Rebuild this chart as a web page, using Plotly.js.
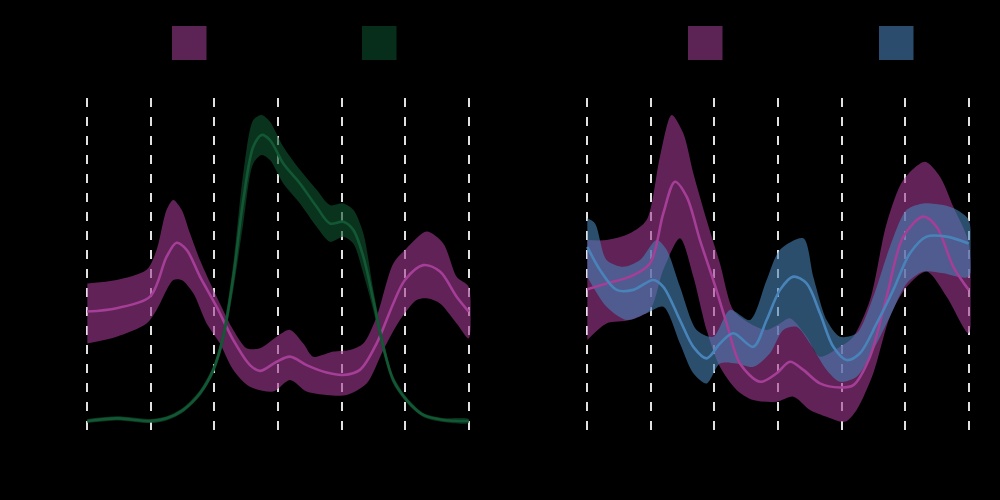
<!DOCTYPE html>
<html>
<head>
<meta charset="utf-8">
<script src="https://cdn.plot.ly/plotly-3.0.1.min.js"></script>
<style>html,body{margin:0;padding:0;background:#000;}#chart{width:1000px;height:500px;}</style>
</head>
<body>
<div id="chart"></div>
<script>
// ---------- Left panel ----------
const leftPurpleMeanX = [0,0.461,0.986,1.248,1.405,1.563,1.772,2.035,2.297,2.559,2.716,2.979,3.188,3.450,3.765,4.027,4.289,4.552,4.814,4.997,5.286,5.548,5.810,6.0];
const leftPurpleMeanY = [0.370,0.380,0.414,0.532,0.573,0.552,0.473,0.384,0.286,0.212,0.195,0.222,0.237,0.212,0.190,0.183,0.198,0.276,0.394,0.463,0.507,0.488,0.414,0.370];
const leftPurpleUpX = [0,0.461,0.933,1.091,1.248,1.353,1.484,1.615,1.772,2.035,2.297,2.507,2.716,2.979,3.188,3.398,3.555,3.870,4.132,4.342,4.552,4.814,5.024,5.338,5.600,5.810,6.0];
const leftPurpleUpY = [0.453,0.463,0.493,0.552,0.670,0.699,0.670,0.601,0.522,0.414,0.316,0.262,0.262,0.296,0.316,0.276,0.237,0.252,0.257,0.276,0.355,0.512,0.557,0.606,0.571,0.473,0.443];
const leftPurpleLoX = [0,0.461,0.933,1.091,1.353,1.484,1.668,1.877,2.087,2.297,2.559,2.926,3.188,3.450,3.765,4.080,4.394,4.657,4.919,5.181,5.338,5.548,5.810,6.0];
const leftPurpleLoY = [0.276,0.296,0.335,0.375,0.463,0.463,0.424,0.335,0.276,0.198,0.148,0.134,0.168,0.134,0.124,0.124,0.158,0.257,0.345,0.404,0.409,0.394,0.335,0.291];

const leftGreenX = [0,0.461,0.986,1.248,1.510,1.772,1.982,2.139,2.297,2.454,2.611,2.743,2.874,3.083,3.346,3.608,3.817,4.027,4.185,4.342,4.499,4.657,4.814,5.024,5.286,5.600,6.0];
const leftGreenMean = [0.047,0.055,0.047,0.055,0.080,0.129,0.198,0.296,0.473,0.699,0.856,0.891,0.876,0.807,0.748,0.679,0.630,0.635,0.611,0.532,0.404,0.266,0.168,0.109,0.065,0.050,0.047];
const leftGreenUp = [0.053,0.061,0.053,0.061,0.087,0.138,0.210,0.318,0.512,0.778,0.935,0.950,0.930,0.856,0.788,0.729,0.684,0.689,0.670,0.601,0.434,0.286,0.180,0.117,0.071,0.056,0.053];
const leftGreenLo = [0.041,0.049,0.041,0.049,0.073,0.120,0.186,0.276,0.434,0.630,0.807,0.832,0.817,0.748,0.689,0.620,0.576,0.591,0.571,0.482,0.374,0.247,0.156,0.101,0.059,0.044,0.041];

// ---------- Right panel ----------
const rightPurpleMeanX = [0,0.304,0.671,0.986,1.196,1.379,1.563,1.772,1.998,2.192,2.402,2.716,2.979,3.188,3.398,3.660,3.975,4.185,4.447,4.709,4.971,5.286,5.496,5.758,6.0];
const rightPurpleMeanY = [0.436,0.453,0.473,0.512,0.660,0.753,0.709,0.581,0.453,0.335,0.217,0.163,0.188,0.222,0.198,0.158,0.146,0.153,0.237,0.414,0.591,0.650,0.620,0.502,0.434];
const rightPurpleUpX = [0,0.304,0.671,0.933,1.143,1.327,1.510,1.668,1.877,2.087,2.297,2.559,2.821,3.031,3.188,3.450,3.660,3.975,4.185,4.447,4.709,4.971,5.312,5.548,5.758,6.0];
const rightPurpleUpY = [0.581,0.581,0.601,0.640,0.827,0.950,0.896,0.778,0.640,0.512,0.375,0.335,0.316,0.335,0.350,0.296,0.237,0.266,0.296,0.404,0.630,0.758,0.812,0.768,0.679,0.571];
const rightPurpleLoX = [0,0.304,0.671,0.986,1.196,1.458,1.668,1.877,2.087,2.349,2.611,2.979,3.241,3.503,3.765,4.053,4.237,4.499,4.761,5.024,5.338,5.653,6.0];
const rightPurpleLoY = [0.286,0.335,0.345,0.375,0.493,0.586,0.473,0.316,0.207,0.139,0.109,0.104,0.119,0.080,0.060,0.045,0.080,0.188,0.355,0.443,0.488,0.414,0.306];

const rightBlueMeanX = [0,0.199,0.461,0.724,1.038,1.196,1.458,1.668,1.877,2.087,2.297,2.611,2.821,3.031,3.241,3.450,3.660,3.870,4.080,4.289,4.552,4.814,5.076,5.338,5.653,6.0];
const rightBlueMeanY = [0.561,0.493,0.434,0.434,0.463,0.443,0.345,0.266,0.232,0.276,0.306,0.266,0.345,0.434,0.473,0.453,0.365,0.266,0.227,0.247,0.335,0.434,0.542,0.591,0.591,0.571];
const rightBlueUpX = [0,0.121,0.304,0.566,0.829,1.091,1.248,1.458,1.720,1.982,2.244,2.559,2.821,3.031,3.398,3.555,3.765,3.975,4.237,4.499,4.761,5.024,5.286,5.600,5.810,6.0];
const rightBlueUpY = [0.645,0.630,0.522,0.502,0.522,0.581,0.552,0.443,0.316,0.296,0.375,0.345,0.463,0.552,0.586,0.473,0.345,0.296,0.306,0.414,0.561,0.670,0.689,0.684,0.670,0.640];
const rightBlueLoX = [0,0.304,0.619,0.933,1.196,1.458,1.668,1.877,2.087,2.349,2.611,2.874,3.083,3.293,3.503,3.765,3.975,4.237,4.499,4.761,5.024,5.286,5.600,6.0];
const rightBlueLoY = [0.473,0.384,0.345,0.365,0.384,0.276,0.188,0.158,0.217,0.217,0.207,0.247,0.316,0.325,0.276,0.198,0.163,0.178,0.257,0.355,0.453,0.488,0.483,0.473];

const xTicks = [0,1,2,3,4,5,6];

// ---------- Styles ----------
const purpleFill = 'rgba(160,56,145,0.6)';
const purpleLine = 'rgb(165,62,150)';
const greenFill = 'rgba(16,82,48,0.62)';
const greenLine = 'rgb(18,88,52)';
const blueFill = 'rgba(70,130,180,0.6)';
const blueLine = 'rgb(72,132,185)';

function band(xu, yu, xl, yl, color, xa, ya) {
  return {
    x: xu.concat(xl.slice().reverse()),
    y: yu.concat(yl.slice().reverse()),
    xaxis: xa, yaxis: ya,
    type: 'scatter', mode: 'lines', fill: 'toself', fillcolor: color,
    line: {width: 0, shape: 'spline', smoothing: 0.8, color: color},
    hoverinfo: 'skip', showlegend: false
  };
}
function meanLine(x, y, color, xa, ya) {
  return {
    x: x, y: y, xaxis: xa, yaxis: ya, type: 'scatter', mode: 'lines',
    line: {width: 2.6, color: color, shape: 'spline', smoothing: 0.9},
    showlegend: false
  };
}

const traces = [
  band(leftPurpleUpX, leftPurpleUpY, leftPurpleLoX, leftPurpleLoY, purpleFill, 'x', 'y'),
  meanLine(leftPurpleMeanX, leftPurpleMeanY, purpleLine, 'x', 'y'),
  band(leftGreenX, leftGreenUp, leftGreenX, leftGreenLo, greenFill, 'x', 'y'),
  meanLine(leftGreenX, leftGreenMean, greenLine, 'x', 'y'),
  band(rightPurpleUpX, rightPurpleUpY, rightPurpleLoX, rightPurpleLoY, purpleFill, 'x2', 'y2'),
  band(rightBlueUpX, rightBlueUpY, rightBlueLoX, rightBlueLoY, blueFill, 'x2', 'y2'),
  meanLine(rightPurpleMeanX, rightPurpleMeanY, purpleLine, 'x2', 'y2'),
  meanLine(rightBlueMeanX, rightBlueMeanY, blueLine, 'x2', 'y2')
];

// padding (>1px) so the gridlines at 0 and 6 are drawn too
const xaxisBase = {
  range: [-0.03, 6.03], tickvals: xTicks, showticklabels: false, ticks: '',
  showgrid: true, gridcolor: 'rgb(225,225,225)', gridwidth: 2, griddash: '9px,10px',
  zeroline: false, showline: false, fixedrange: true
};
const yaxisBase = {
  range: [0, 1], showgrid: false, zeroline: false, showline: false,
  showticklabels: false, ticks: '', fixedrange: true
};

function legendSquare(x0, color) {
  return {type: 'rect', xref: 'paper', yref: 'paper', x0: x0, x1: x0 + 0.0345, y0: 0.88, y1: 0.948,
          fillcolor: color, line: {width: 0}, layer: 'above'};
}

const layout = {
  width: 1000, height: 500,
  margin: {l: 0, r: 0, t: 0, b: 0},
  paper_bgcolor: '#000', plot_bgcolor: '#000',
  showlegend: false,
  xaxis: Object.assign({}, xaxisBase, {domain: [0.08539, 0.47061], anchor: 'y'}),
  yaxis: Object.assign({}, yaxisBase, {domain: [0.126, 0.804], anchor: 'x'}),
  xaxis2: Object.assign({}, xaxisBase, {domain: [0.58539, 0.97061], anchor: 'y2'}),
  yaxis2: Object.assign({}, yaxisBase, {domain: [0.126, 0.804], anchor: 'x2'}),
  shapes: [
    legendSquare(0.172, 'rgb(92,35,85)'),
    legendSquare(0.362, 'rgb(6,46,26)'),
    legendSquare(0.688, 'rgb(92,35,85)'),
    legendSquare(0.879, 'rgb(43,76,108)')
  ]
};

Plotly.newPlot('chart', traces, layout, {displayModeBar: false, staticPlot: true});
</script>
</body>
</html>
